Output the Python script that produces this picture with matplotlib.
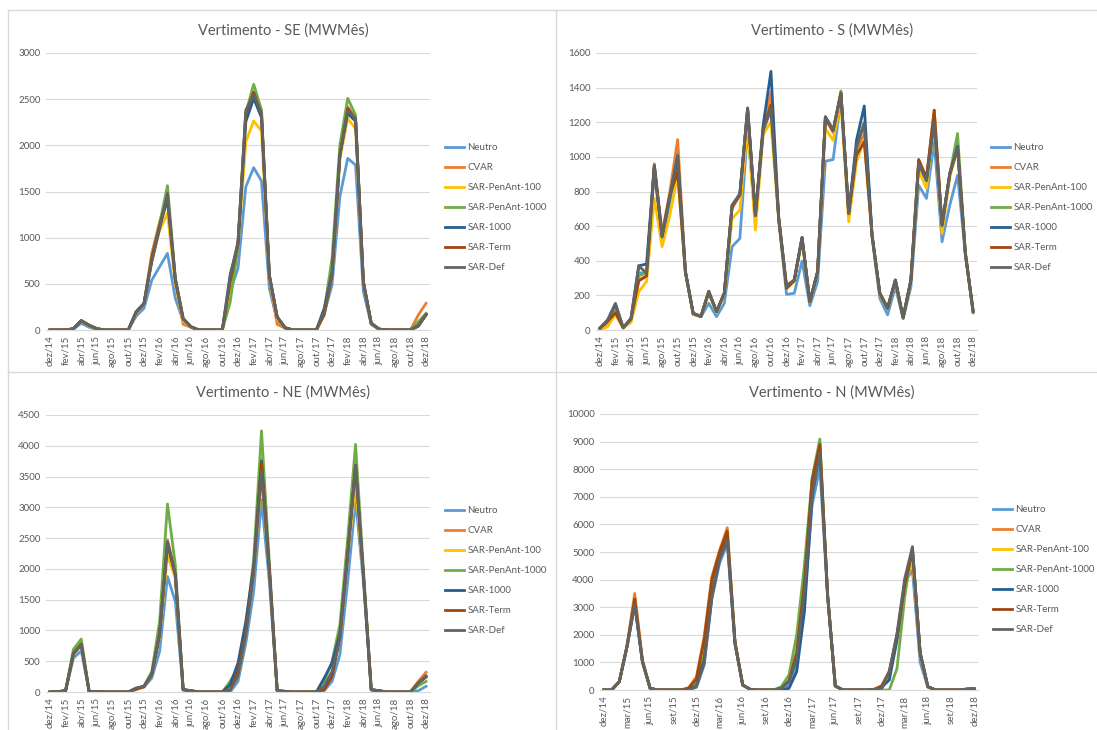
import matplotlib
matplotlib.use("Agg")
import matplotlib.pyplot as plt
from matplotlib.lines import Line2D

plt.rcParams['font.family'] = ['Lato', 'DejaVu Sans']

W, H = 1097, 730

months = ["dez/14", "jan/15", "fev/15", "mar/15", "abr/15", "mai/15", "jun/15", "jul/15",
          "ago/15", "set/15", "out/15", "nov/15", "dez/15", "jan/16", "fev/16", "mar/16",
          "abr/16", "mai/16", "jun/16", "jul/16", "ago/16", "set/16", "out/16", "nov/16",
          "dez/16", "jan/17", "fev/17", "mar/17", "abr/17", "mai/17", "jun/17", "jul/17",
          "ago/17", "set/17", "out/17", "nov/17", "dez/17", "jan/18", "fev/18", "mar/18",
          "abr/18", "mai/18", "jun/18", "jul/18", "ago/18", "set/18", "out/18", "nov/18",
          "dez/18"]

series_names = ["Neutro", "CVAR", "SAR-PenAnt-100", "SAR-PenAnt-1000",
                "SAR-1000", "SAR-Term", "SAR-Def"]
series_colors = ["#5B9BD5", "#ED7D31", "#FFC000", "#70AD47", "#255E91", "#9E480E", "#636363"]

# ---------------- SE ----------------
se_neutro = [0,0,0,10,72,30,5,0,0,0,0,150,235,540,685,830,343,100,30,0,0,0,0,420,668,1552,1758,1614,451,100,20,0,0,0,0,180,487,1444,1859,1787,415,60,8,0,0,0,0,40,160]
se_cvar = [0,0,0,12,95,45,12,0,0,0,0,180,280,830,1170,1450,520,61,30,0,0,0,0,500,930,2350,2563,2330,560,61,20,0,0,0,0,160,600,1900,2419,2300,500,65,8,0,0,0,0,162,289]
se_pen100 = [0,0,0,12,95,45,12,0,0,0,0,190,280,760,1080,1263,500,100,30,0,0,0,0,450,900,2040,2264,2155,560,120,22,0,0,0,0,190,580,1850,2292,2180,510,70,8,0,0,0,0,60,170]
se_pen1000 = [0,0,0,15,105,55,15,0,0,0,0,190,285,780,1150,1563,560,120,35,0,0,0,0,300,900,2350,2661,2383,590,140,25,0,0,0,0,210,776,2004,2509,2329,520,75,10,0,0,0,0,90,180]
se_sar1000 = [0,0,0,14,100,50,14,0,0,0,0,195,285,750,1120,1410,540,120,33,0,0,0,0,600,930,2256,2509,2300,590,140,25,0,0,0,0,235,620,1900,2347,2260,520,72,10,0,0,0,0,45,165]
se_term = [0,0,0,14,100,50,14,0,0,0,0,195,285,780,1130,1450,550,125,35,0,0,0,0,520,940,2350,2575,2330,590,140,25,0,0,0,0,170,590,1880,2400,2280,520,72,10,0,0,0,0,45,168]
se_def = [0,0,0,15,100,50,15,0,0,0,0,200,290,740,1100,1480,560,126,36,0,0,0,0,570,957,2383,2545,2347,596,144,25,0,0,0,0,200,596,1895,2383,2292,523,72,10,0,0,0,0,43,170]

# ---------------- S ----------------
s_neutro = [8,45,130,12,60,330,330,913,520,740,952,330,90,77,154,77,154,481,529,1163,640,1150,1270,640,206,212,398,140,279,975,985,1340,660,1050,1200,540,183,87,250,65,250,836,760,1087,510,721,894,440,99]
s_cvar = [8,40,96,12,55,290,310,960,560,798,1100,340,90,80,225,106,215,700,780,1270,650,1170,1375,650,260,290,535,165,335,1220,1140,1370,670,1040,1130,550,215,130,290,72,285,980,870,1270,600,900,1060,450,110]
s_pen100 = [0,20,90,12,44,221,279,760,481,663,894,330,90,77,210,100,205,644,692,1183,577,1130,1202,630,240,280,520,160,330,1163,1096,1317,625,971,1100,540,205,120,280,70,280,923,817,1200,558,880,1050,440,105]
s_pen1000 = [10,55,125,13,60,313,330,940,545,780,1000,336,96,80,221,106,212,710,780,1280,665,1150,1300,645,250,288,530,163,337,1231,1154,1381,673,1050,1200,548,212,125,288,71,288,970,860,1220,600,900,1135,445,108]
s_sar1000 = [10,58,150,13,67,371,381,950,540,770,1000,336,96,77,221,106,212,721,780,1280,665,1183,1494,644,250,288,533,163,337,1231,1154,1365,673,1096,1294,548,212,125,288,71,288,961,865,1210,606,904,1060,442,108]
s_term = [10,50,100,13,65,283,312,940,545,780,913,336,96,80,221,106,212,715,780,1270,660,1160,1300,645,240,285,535,165,337,1225,1150,1370,673,1010,1087,548,212,125,288,71,288,985,880,1269,606,900,1050,442,108]
s_def = [10,58,154,13,67,371,327,952,538,769,1010,336,96,77,221,106,212,721,788,1283,663,1154,1279,644,250,288,533,163,337,1231,1154,1365,673,1058,1192,548,212,125,288,71,288,961,865,1202,606,904,1048,442,108]

# ---------------- NE ----------------
ne_neutro = [0,5,20,550,670,10,5,0,0,0,0,50,80,227,660,1876,1470,30,20,0,0,0,0,0,173,795,1632,3119,1800,20,10,0,0,0,0,20,173,605,1795,3119,1800,30,20,0,0,0,0,20,92]
ne_cvar = [0,5,20,620,790,10,10,0,0,0,0,40,85,290,1000,2470,1950,38,20,0,0,0,0,60,335,1000,2000,3795,2000,20,10,0,0,0,0,38,300,900,2300,3600,1950,38,20,0,0,0,0,173,320]
ne_pen100 = [0,5,20,600,760,10,5,0,0,0,0,55,85,280,900,2227,1850,38,20,0,0,0,0,40,250,950,1950,3500,1950,20,10,0,0,0,0,90,330,860,2200,3362,1900,38,20,0,0,0,0,150,250]
ne_pen1000 = [0,5,25,695,860,10,5,0,0,0,0,60,95,335,1146,3054,2065,40,20,0,0,0,0,173,390,1050,2146,4243,2100,20,10,0,0,0,0,173,497,1092,2497,4022,2000,38,20,0,0,0,0,100,173]
ne_sar1000 = [0,5,20,620,770,10,5,0,0,0,0,60,90,290,950,2400,1900,38,20,0,0,0,0,120,470,1146,2050,3751,2000,20,10,0,0,0,0,227,470,950,2250,3650,1900,38,20,0,0,0,0,140,260]
ne_term = [0,5,20,620,780,10,8,0,0,0,0,45,85,285,950,2430,1920,38,20,0,0,0,0,30,335,980,1980,3720,1980,20,10,0,0,0,0,38,250,880,2250,3680,1900,38,20,0,0,0,0,150,250]
ne_def = [0,5,20,630,780,10,5,0,0,0,0,65,90,280,930,2443,1903,38,20,0,0,0,0,38,254,930,1957,3578,1950,20,10,0,0,0,0,92,335,876,2227,3686,1900,38,20,0,0,0,0,146,243]

# ---------------- N ----------------
n_neutro = [0,0,300,1570,3200,1025,60,0,0,0,0,0,100,900,3300,4600,5300,1650,180,20,0,0,0,20,150,900,3200,6710,8040,3400,145,0,0,0,0,20,40,500,1900,3900,4340,1000,100,0,0,0,0,30,40]
n_cvar = [0,0,300,1600,3500,1100,60,0,0,0,0,85,480,1930,4100,5060,5880,1750,180,20,0,0,0,80,320,1390,4050,7500,8950,3450,145,0,0,0,0,20,120,700,1950,3600,4800,1300,120,0,0,0,0,30,40]
n_pen100 = [0,0,300,1570,3200,1025,60,0,0,0,0,20,250,1300,3700,4900,5600,1700,180,20,0,0,0,60,300,1300,3800,7400,8800,3450,145,0,0,0,0,20,80,600,1900,3700,4800,1300,120,0,0,0,0,30,40]
n_pen1000 = [0,0,300,1570,3150,1025,60,0,0,0,0,20,250,1200,3500,4900,5650,1700,180,20,0,0,0,120,545,2000,4530,7680,9090,3450,145,0,0,0,0,0,0,0,780,3370,5200,1350,120,0,0,0,0,30,40]
n_sar1000 = [0,0,300,1570,3100,1025,60,0,0,0,0,10,150,1100,3400,4800,5500,1700,180,20,0,0,0,0,60,665,2840,7000,8700,3450,145,0,0,0,0,20,100,360,1800,3900,5100,1350,120,0,0,0,0,30,40]
n_term = [0,0,300,1600,3300,1050,60,0,0,0,0,70,400,1800,4000,5000,5750,1720,180,20,0,0,0,60,330,1350,3900,7600,8900,3450,145,0,0,0,0,20,150,650,2000,3800,5050,1350,120,0,0,0,0,30,40]
n_def = [0,0,300,1570,3080,1025,60,0,0,0,0,0,120,960,3370,4700,5420,1690,180,20,0,0,0,60,300,1150,3570,7070,8580,3450,145,0,0,0,0,20,60,660,2050,4040,5180,1350,120,0,0,0,0,30,40]

panels = [
    dict(title="Vertimento - SE (MWMês)",
         data=[se_neutro, se_cvar, se_pen100, se_pen1000, se_sar1000, se_term, se_def],
         ymax=3000, ystep=500, xstep=2,
         box=(46, 53, 430, 330), title_xy=(283, 31), leg_xy=(445, 143)),
    dict(title="Vertimento - S (MWMês)",
         data=[s_neutro, s_cvar, s_pen100, s_pen1000, s_sar1000, s_term, s_def],
         ymax=1600, ystep=200, xstep=2,
         box=(596, 53, 977, 330), title_xy=(832, 31), leg_xy=(991, 143)),
    dict(title="Vertimento - NE (MWMês)",
         data=[ne_neutro, ne_cvar, ne_pen100, ne_pen1000, ne_sar1000, ne_term, ne_def],
         ymax=4500, ystep=500, xstep=2,
         box=(46, 415, 430, 692), title_xy=(283, 393), leg_xy=(445, 506)),
    dict(title="Vertimento - N (MWMês)",
         data=[n_neutro, n_cvar, n_pen100, n_pen1000, n_sar1000, n_term, n_def],
         ymax=10000, ystep=1000, xstep=3,
         box=(600, 414, 978, 690), title_xy=(832, 393), leg_xy=(993, 505)),
]

fig = plt.figure(figsize=(W / 100, H / 100), dpi=100)
fig.patch.set_facecolor("white")

# panel borders
border = "#D9D9D9"
for (x0, y0, x1, y1) in [(8, 10, 1097, 10), (8, 10, 8, 730), (556, 10, 556, 730),
                         (8, 372, 1097, 372)]:
    fig.add_artist(Line2D([x0 / W, x1 / W], [1 - y0 / H, 1 - y1 / H],
                          color=border, lw=1.0, transform=fig.transFigure))

text_color = "#595959"
x_idx = list(range(len(months)))

for p in panels:
    x0, y0, x1, y1 = p["box"]
    ax = fig.add_axes([x0 / W, 1 - y1 / H, (x1 - x0) / W, (y1 - y0) / H])
    for name, col, vals in zip(series_names, series_colors, p["data"]):
        ax.plot(x_idx, vals, color=col, lw=2.0, label=name, solid_joinstyle="round")
    ax.set_xlim(-0.5, len(months) - 0.5)
    ax.set_ylim(0, p["ymax"])
    ax.set_yticks(range(0, p["ymax"] + 1, p["ystep"]))
    ax.set_xticks(x_idx[::p["xstep"]])
    ax.set_xticklabels(months[::p["xstep"]], rotation=90)
    ax.grid(axis="y", color="#D9D9D9", lw=0.8)
    ax.set_axisbelow(True)
    for s in ["top", "right", "left"]:
        ax.spines[s].set_visible(False)
    ax.spines["bottom"].set_color("#D9D9D9")
    ax.tick_params(axis="both", length=0, labelsize=7, colors=text_color, pad=4)
    fig.text(p["title_xy"][0] / W, 1 - p["title_xy"][1] / H, p["title"],
             ha="center", va="center", fontsize=10.5, color=text_color)
    lx, ly = p["leg_xy"]
    ax.legend(loc="upper left", bbox_to_anchor=(lx / W, 1 - ly / H),
              bbox_transform=fig.transFigure, frameon=False, fontsize=7,
              handlelength=2.0, handletextpad=0.3, labelspacing=1.13,
              borderaxespad=0, borderpad=0, labelcolor=text_color)

fig.savefig("out.png", dpi=100, facecolor="white")
